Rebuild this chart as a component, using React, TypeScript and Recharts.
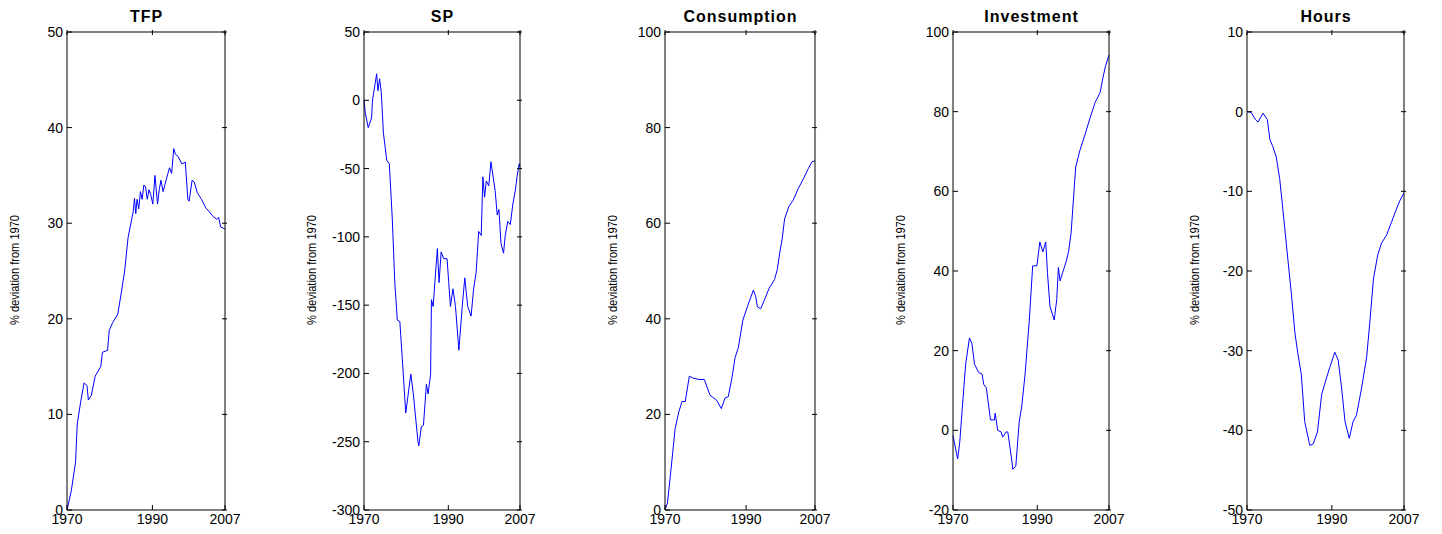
import { LineChart, Line, XAxis, YAxis } from 'recharts';

const xTicks = [1970, 1990, 2007];

const tfpYears = [1970, 1971, 1972, 1972.4, 1973.2, 1974, 1974.7, 1975, 1975.7, 1976.6, 1977.9, 1978.3, 1979.5, 1979.9, 1980.7, 1981.9, 1982.7, 1983.5, 1984.3, 1985.5, 1985.8, 1986.1, 1986.4, 1986.8, 1987.2, 1987.6, 1988, 1988.4, 1988.8, 1989.2, 1989.6, 1990.1, 1990.6, 1991.2, 1991.6, 1992, 1992.5, 1993.2, 1994, 1994.5, 1995, 1995.4, 1996, 1996.9, 1997.7, 1998.3, 1998.6, 1999.3, 1999.8, 2000.5, 2001.5, 2002.5, 2003.3, 2004.2, 2005.1, 2005.5, 2006, 2007];
const tfpValues = [0, 2, 5, 9, 11.3, 13.3, 13, 11.5, 12, 14, 15, 16.5, 16.7, 18.8, 19.6, 20.5, 22.7, 25, 28.5, 31.2, 32.6, 31, 32.5, 31.5, 33.3, 32.5, 34, 33.8, 32.5, 33.5, 33, 32, 35, 32, 33.5, 34.5, 33.3, 34.5, 35.8, 35.2, 37.8, 37.2, 37, 36.2, 36.4, 32.5, 32.3, 34.5, 34.3, 33.2, 32.5, 31.6, 31.2, 30.7, 30.4, 30.6, 29.6, 29.4];

const spYears = [1970, 1970.3, 1971, 1971.8, 1972, 1973, 1973.3, 1973.7, 1974.1, 1974.6, 1975.4, 1976, 1976.7, 1977.3, 1977.9, 1978.5, 1979.1, 1979.9, 1981.1, 1981.7, 1982.8, 1983, 1983.6, 1984.1, 1984.8, 1985.2, 1985.8, 1986, 1986.4, 1987.1, 1987.4, 1987.8, 1988.3, 1988.9, 1989.7, 1990.1, 1990.5, 1991.1, 1991.7, 1992.5, 1993.3, 1993.9, 1994.6, 1995.4, 1996, 1996.6, 1997.2, 1997.8, 1998.2, 1998.6, 1999, 1999.6, 2000.1, 2001.1, 2001.6, 2002, 2002.5, 2003.1, 2003.5, 2004.1, 2004.7, 2005.3, 2005.9, 2006.3, 2006.8, 2007];
const spValues = [0, -9, -20, -13, -0.5, 19.4, 7, 15.7, 5.8, -24, -44, -46.5, -86, -133, -161, -162, -190, -229, -200.5, -215, -250, -253, -239, -238, -208, -215, -200.5, -146, -151, -121, -108.6, -133.5, -111, -116, -116, -133.5, -151, -138, -151, -183, -151, -130, -151, -158, -138, -126, -96, -99, -56, -71, -59, -62.6, -45, -66, -84, -80, -105, -112, -99, -88.7, -91, -76, -66, -56, -46.5, -49];

const consYears = [1970, 1970.6, 1971.3, 1971.9, 1972.5, 1973.4, 1974.2, 1975, 1976, 1976.9, 1978.4, 1979.7, 1981.1, 1982.7, 1983.9, 1984.8, 1985.6, 1986.5, 1987.3, 1988.1, 1989.2, 1990.3, 1991.8, 1992.4, 1992.8, 1993.6, 1994.5, 1995.7, 1997, 1997.7, 1998.3, 1998.9, 1999.5, 2000.5, 2001.6, 2002.9, 2004.2, 2005.4, 2006.3, 2007];
const consValues = [0, 1.4, 7, 12, 17, 20.5, 22.7, 22.7, 28, 27.6, 27.3, 27.3, 24, 23, 21.2, 23.4, 23.7, 27.6, 31.9, 34, 39.7, 42.5, 46, 44.6, 42.5, 42.1, 43.9, 46.4, 48.2, 50.3, 53.8, 56.7, 60.9, 63.4, 64.8, 67.3, 69.4, 71.5, 72.9, 73];

const invYears = [1970, 1971.1, 1971.6, 1972.2, 1973, 1973.9, 1974.5, 1975.1, 1976.1, 1976.9, 1977.3, 1977.9, 1978.9, 1979.8, 1980, 1980.6, 1981.4, 1981.8, 1982.6, 1983, 1983.8, 1984.2, 1984.9, 1985.7, 1986.3, 1987.1, 1988.1, 1988.9, 1989.9, 1990.6, 1991.3, 1992, 1992.4, 1993, 1994, 1994.6, 1995, 1995.4, 1996, 1996.8, 1997.4, 1998, 1998.7, 1999.1, 2000.1, 2001.3, 2002.5, 2003.7, 2004.9, 2005.5, 2006.2, 2007];
const invValues = [-1.3, -7.2, -3, 5.5, 16.6, 23.2, 21.7, 16.6, 14.5, 14.1, 11.5, 10.7, 2.6, 2.6, 4.3, 0, -0.4, -1.7, -0.4, -0.4, -6.4, -9.8, -9, 2.1, 6, 14.1, 27.7, 41.3, 41.3, 47.3, 44.8, 47.3, 39.6, 31.1, 27.7, 32.8, 40.9, 37.5, 39.6, 42.2, 44.8, 49.4, 60.1, 66.1, 70.3, 74.2, 78.4, 82.3, 84.8, 88.2, 91.6, 94.2];

const hoursYears = [1970, 1971, 1972, 1972.6, 1973.8, 1974.8, 1975.4, 1976.1, 1976.9, 1977.7, 1978.5, 1979.7, 1980.5, 1981.3, 1982, 1982.8, 1983.6, 1984.8, 1985.6, 1986.6, 1987.6, 1988.3, 1989.5, 1990.7, 1991.5, 1992.3, 1993.1, 1994.1, 1995, 1995.8, 1997, 1998.2, 1999, 1999.8, 2000.8, 2001.7, 2002.9, 2004.1, 2005.3, 2006, 2007];
const hoursValues = [0, -0.1, -1, -1.3, -0.2, -1, -3.5, -4.4, -5.7, -8.4, -12.5, -18.9, -23.1, -27.8, -30.4, -33, -38.9, -41.9, -41.7, -40.2, -35.5, -34.2, -32.1, -30.2, -31.2, -34.7, -38.9, -41, -38.9, -38.1, -34.7, -30.8, -26.1, -21, -18, -16.5, -15.5, -13.8, -12.1, -11.2, -10.2];

const FONT = 'Arial, "Liberation Sans", sans-serif';
const TOP = 31;
const BOTTOM = 510;
const LEFT_PAD = 60;
const TICK = 5;

// inward tick marks with labels outside, like the original
const bottomTick = (props: any) => (
  <g>
    <line x1={props.x} x2={props.x} y1={props.y} y2={props.y - TICK} stroke="#000" />
    <text x={props.x} y={props.y + 14} textAnchor="middle" fontSize={14} fontFamily={FONT} fill="#000">
      {props.payload.value}
    </text>
  </g>
);
const topTick = (props: any) => (
  <line x1={props.x} x2={props.x} y1={props.y} y2={props.y + TICK} stroke="#000" />
);
const leftTick = (props: any) => (
  <g>
    <line x1={props.x} x2={props.x + TICK} y1={props.y} y2={props.y} stroke="#000" />
    <text x={props.x - 4} y={props.y + 5} textAnchor="end" fontSize={14} fontFamily={FONT} fill="#000">
      {props.payload.value}
    </text>
  </g>
);
const rightTick = (props: any) => (
  <line x1={props.x} x2={props.x - TICK} y1={props.y} y2={props.y} stroke="#000" />
);

type PanelProps = {
  title: string;
  years: number[];
  values: number[];
  yTicks: number[];
  left: number;
  width: number;
};

function Panel({ title, years, values, yTicks, left, width }: PanelProps) {
  const data = years.map((year, i) => ({ year, v: values[i] }));
  const yDomain = [yTicks[0], yTicks[yTicks.length - 1]];
  return (
    <div style={{ position: 'absolute', left: left - LEFT_PAD, top: 0 }}>
      <LineChart
        width={width + LEFT_PAD + 20}
        height={534}
        data={data}
        margin={{ top: TOP, bottom: 0, left: 0, right: 20 }}
      >
        <text x={LEFT_PAD + width / 2} y={TOP - 9} textAnchor="middle" fontFamily={FONT} fontWeight="bold" fontSize={16} letterSpacing={1}>
          {title}
        </text>
        <text
          transform={`translate(${LEFT_PAD - 48}, 270) rotate(-90)`}
          textAnchor="middle"
          fontFamily={FONT}
          fontSize={12}
          textLength={110}
          lengthAdjust="spacingAndGlyphs"
        >
          % deviation from 1970
        </text>
        <XAxis
          dataKey="year"
          type="number"
          domain={[1970, 2007]}
          ticks={xTicks}
          interval={0}
          tickSize={0}
          tickMargin={0}
          tickLine={false}
          stroke="#000"
          tick={bottomTick}
          height={534 - BOTTOM}
        />
        <XAxis
          xAxisId="top"
          orientation="top"
          dataKey="year"
          type="number"
          domain={[1970, 2007]}
          ticks={xTicks}
          interval={0}
          tickSize={0}
          tickLine={false}
          stroke="#000"
          tick={topTick}
          height={1}
        />
        <YAxis
          domain={yDomain}
          ticks={yTicks}
          interval={0}
          tickSize={0}
          tickMargin={0}
          tickLine={false}
          stroke="#000"
          tick={leftTick}
          width={LEFT_PAD}
        />
        <YAxis
          yAxisId="right"
          orientation="right"
          domain={yDomain}
          ticks={yTicks}
          interval={0}
          tickSize={0}
          tickLine={false}
          stroke="#000"
          tick={rightTick}
          width={1}
        />
        <Line
          type="linear"
          dataKey="v"
          stroke="#0000ff"
          strokeWidth={1}
          dot={false}
          isAnimationActive={false}
        />
        <Line
          xAxisId="top"
          yAxisId="right"
          type="linear"
          dataKey="v"
          stroke="none"
          dot={false}
          legendType="none"
          isAnimationActive={false}
        />
      </LineChart>
    </div>
  );
}

export default function App() {
  return (
    <div style={{ position: 'absolute', left: 0, top: 0, width: 1442, height: 534, background: '#fff' }}>
      <Panel title="TFP" years={tfpYears} values={tfpValues} yTicks={[0, 10, 20, 30, 40, 50]} left={67} width={159} />
      <Panel title="SP" years={spYears} values={spValues} yTicks={[-300, -250, -200, -150, -100, -50, 0, 50]} left={364} width={157} />
      <Panel title="Consumption" years={consYears} values={consValues} yTicks={[0, 20, 40, 60, 80, 100]} left={665} width={151} />
      <Panel title="Investment" years={invYears} values={invValues} yTicks={[-20, 0, 20, 40, 60, 80, 100]} left={953} width={157} />
      <Panel title="Hours" years={hoursYears} values={hoursValues} yTicks={[-50, -40, -30, -20, -10, 0, 10]} left={1247} width={158} />
    </div>
  );
}
